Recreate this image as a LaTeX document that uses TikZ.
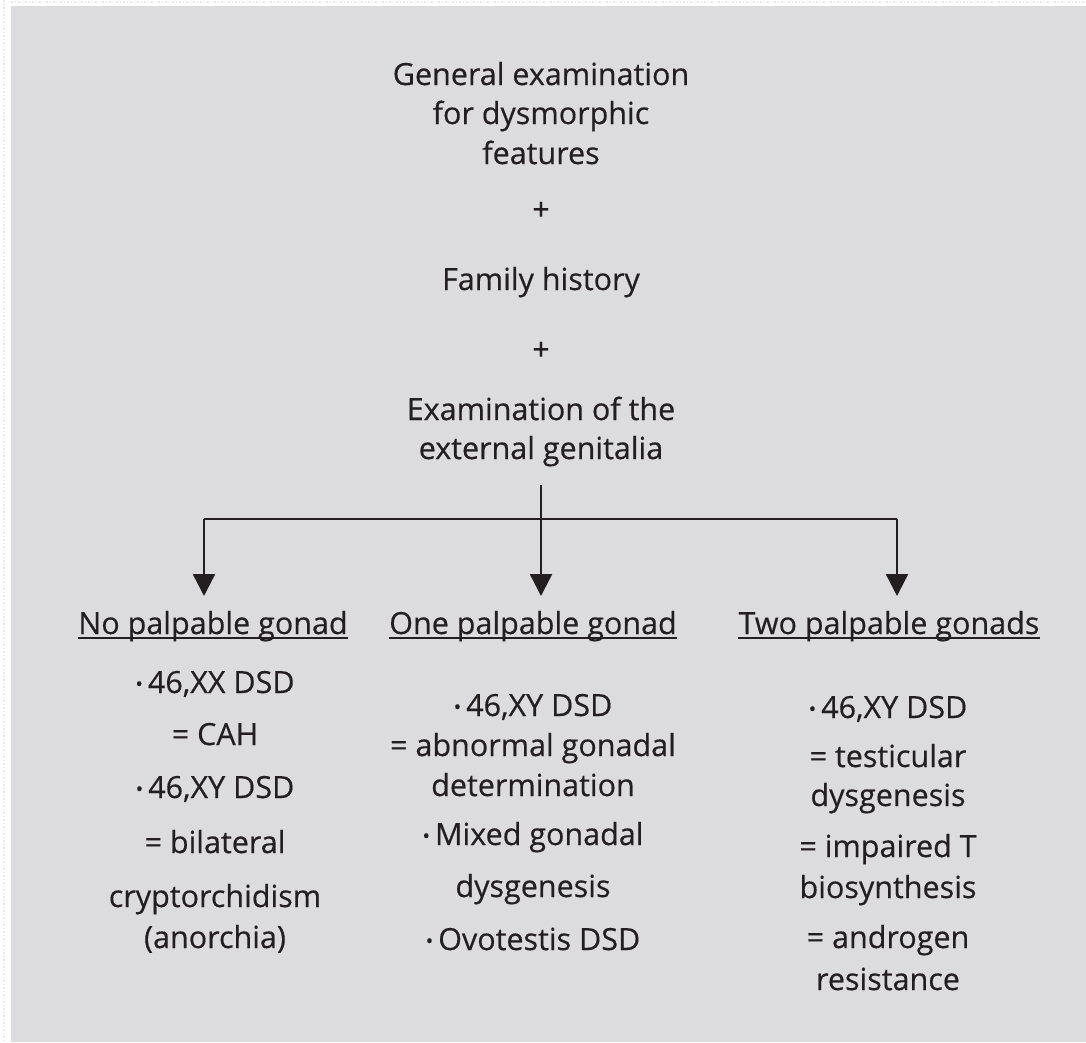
\documentclass[tikz,border=0pt]{standalone}
\usepackage{fontspec}
\setmainfont[FakeBold=0.4]{Open Sans}
\usetikzlibrary{arrows.meta}
\definecolor{bg}{HTML}{DCDCDE}
\definecolor{ink}{HTML}{231F20}
\tikzset{
  txt/.style={text=ink, inner sep=0pt, anchor=base, font=\fontsize{30.5}{34}\selectfont},
  hdr/.style={txt},
  conn/.style={draw=ink, line width=2.4pt},
  arr/.style={conn, -{Triangle[width=22pt,length=22pt]}},
}
\newcommand{\bul}{{\fontsize{20}{20}\selectfont\raisebox{2pt}{•}}\kern5pt}
\begin{document}
\begin{tikzpicture}[x=1pt,y=-1pt]
\useasboundingbox (0,0) rectangle (1086,1042);
\fill[white] (0,0) rectangle (1086,1042);
\draw[gray!18, line width=1.5pt, dotted] (4,0) -- (4,1042);
\draw[gray!18, line width=1.5pt, dotted] (11,2) -- (1086,2);
\fill[bg] (11,6) rectangle (1086,1042);

% top block
\node[txt] (t1) at (541,85) {General examination};
\node[txt] (t2) at (541,124) {for dysmorphic};
\node[txt] (t3) at (541,164) {features};
\node[txt] (p1) at (541,220) {+};
\node[txt] (fh) at (541,290) {Family history};
\node[txt] (p2) at (541,360) {+};
\node[txt] (e1) at (541,420) {Examination of the};
\node[txt] (e2) at (541,459) {external genitalia};

% headers
\node[hdr] (h1) at (213,634) {No palpable gonad};
\node[hdr] (h2) at (533,634) {One palpable gonad};
\node[hdr] (h3) at (889,634) {Two palpable gonads};
\foreach \h in {h1,h2,h3}{
  \draw[ink, line width=1.8pt] ([yshift=-4pt]\h.base west) -- ([yshift=-4pt]\h.base east);
}

% connectors
\coordinate (top) at (541,485);
\coordinate (jl) at (204,519);
\coordinate (jr) at (897,519);
\coordinate (al) at (204,596);
\coordinate (am) at (541,596);
\coordinate (ar) at (897,596);
\draw[conn] (jl) -- (jr);
\draw[arr] (top) -- (am);
\draw[arr] (jl) -- (al);
\draw[arr] (jr) -- (ar);

% left column
\node[txt] (l1) at (215,693) {\bul 46,XX DSD};
\node[txt] (l2) at (215,745) {= CAH};
\node[txt] (l3) at (215,798) {\bul 46,XY DSD};
\node[txt] (l4) at (215,853) {= bilateral};
\node[txt] (l5) at (215,907) {cryptorchidism};
\node[txt] (l6) at (215,948) {(anorchia)};

% middle column
\node[txt] (m1) at (533,716) {\bul 46,XY DSD};
\node[txt] (m2) at (533,756) {= abnormal gonadal};
\node[txt] (m3) at (533,796) {determination};
\node[txt] (m4) at (533,845) {\bul Mixed gonadal};
\node[txt] (m5) at (533,897) {dysgenesis};
\node[txt] (m6) at (533,950) {\bul Ovotestis DSD};

% right column
\node[txt] (r1) at (888,718) {\bul 46,XY DSD};
\node[txt] (r2) at (888,767) {= testicular};
\node[txt] (r3) at (888,806) {dysgenesis};
\node[txt] (r4) at (888,857) {= impaired T};
\node[txt] (r5) at (888,898) {biosynthesis};
\node[txt] (r6) at (888,948) {= androgen};
\node[txt] (r7) at (888,990) {resistance};
\end{tikzpicture}
\end{document}
